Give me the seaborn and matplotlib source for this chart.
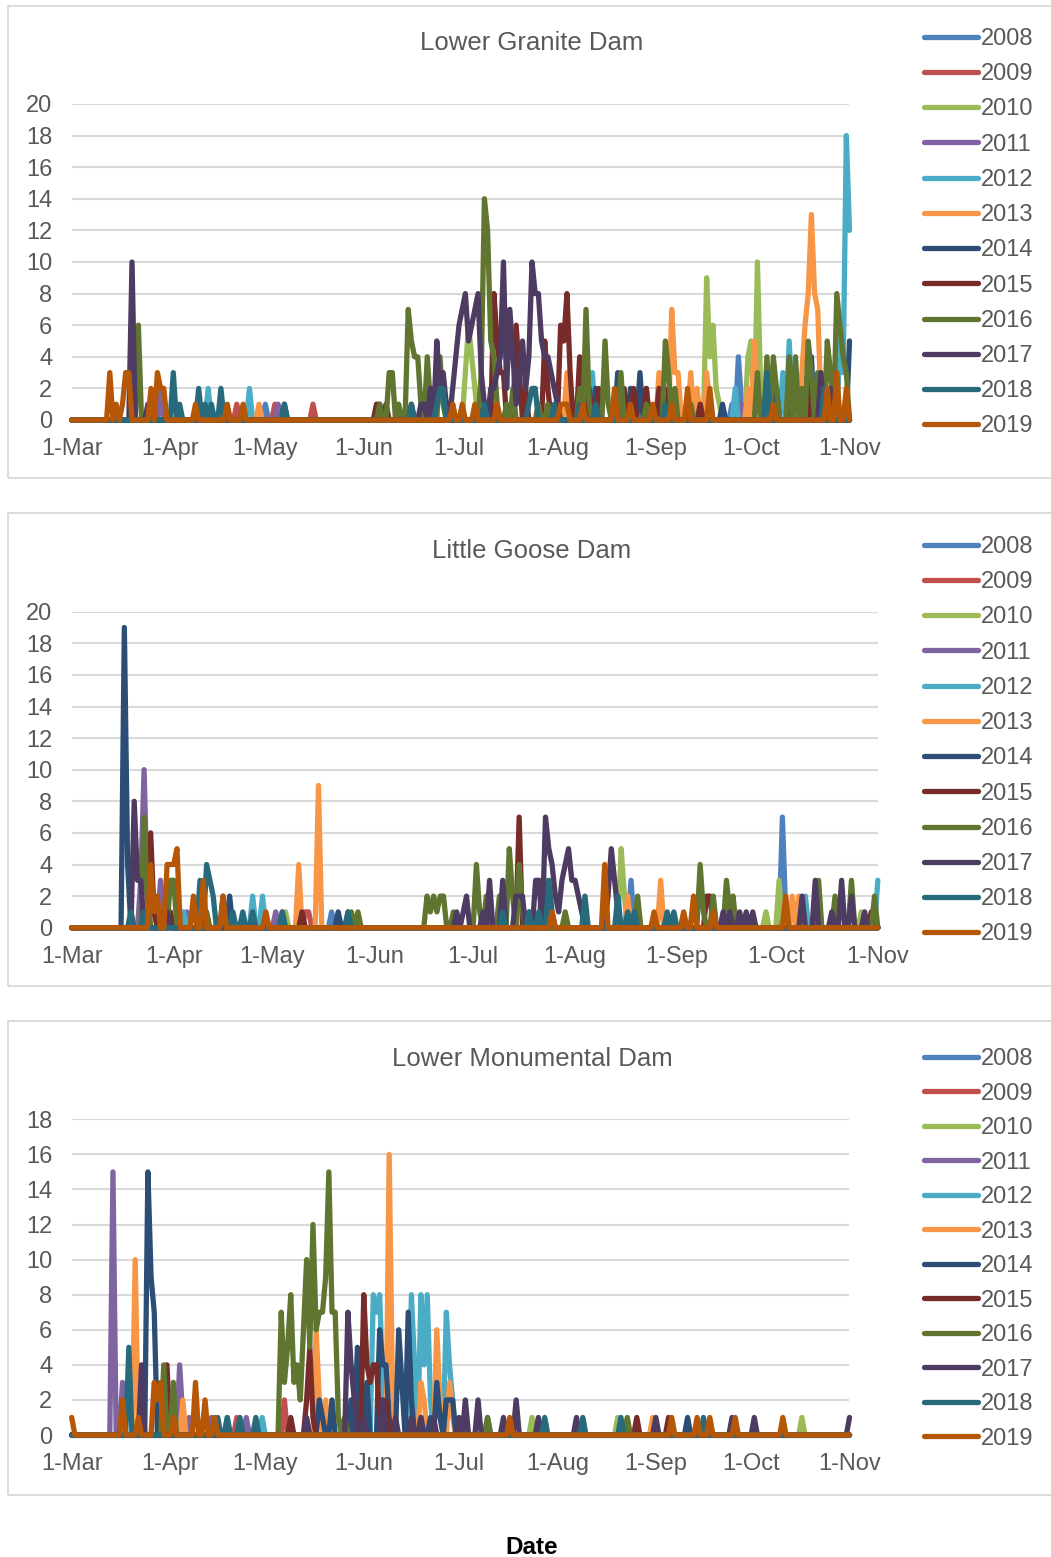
import numpy as np
import pandas as pd
import matplotlib
matplotlib.use("Agg")
import matplotlib.pyplot as plt
import seaborn as sns
from matplotlib.patches import Rectangle

YEARS = [2008, 2009, 2010, 2011, 2012, 2013, 2014, 2015, 2016, 2017, 2018, 2019]
COLORS = ["#4F81BD", "#C0504D", "#9BBB59", "#8064A2", "#4BACC6", "#F79646",
          "#2C4D75", "#772C2A", "#5F7530", "#4D3B62", "#276A7C", "#B65708"]
TICK_LABELS = ["1-Mar", "1-Apr", "1-May", "1-Jun", "1-Jul", "1-Aug", "1-Sep", "1-Oct", "1-Nov"]
SEASON_START = "2001-03-01"
SEASON_END = "2001-11-01"

# Daily counts keyed by days after 1 March; days not listed are zero.
LOWER_GRANITE = {
    2008: {61: 1, 190: 1, 208: 1, 210: 4, 211: 1, 232: 1, 240: 2},
    2009: {52: 1, 64: 1, 76: 1, 160: 1, 236: 1},
    2010: {124: 3, 125: 6, 126: 4, 127: 2, 197: 1, 200: 9, 201: 4, 202: 6, 203: 2, 204: 1,
           213: 4, 214: 5, 216: 10, 217: 2, 226: 1},
    2011: {28: 2, 65: 1, 211: 1},
    2012: {43: 2, 56: 2, 164: 3, 209: 2, 224: 3, 226: 5, 227: 1, 235: 2, 242: 5, 243: 3,
           244: 18, 245: 12},
    2013: {59: 1, 133: 1, 156: 3, 185: 3, 189: 7, 190: 3, 191: 3, 195: 3, 197: 2, 200: 3,
           201: 1, 213: 2, 215: 5, 216: 2, 221: 2, 230: 3, 231: 6, 232: 8, 233: 13, 234: 8,
           235: 7, 236: 1},
    2014: {25: 1, 67: 1, 165: 2, 172: 3, 176: 2, 179: 3, 181: 2, 205: 1, 222: 2, 233: 4,
           236: 2, 245: 5},
    2015: {96: 1, 97: 1, 99: 1, 107: 1, 133: 8, 134: 5, 135: 3, 136: 3, 140: 6, 141: 3,
           143: 2, 149: 5, 150: 2, 154: 6, 155: 5, 156: 8, 157: 3, 160: 4, 161: 2, 163: 2,
           166: 2, 174: 2, 177: 2, 181: 2, 185: 2, 188: 2, 198: 1, 226: 2, 233: 2, 238: 1},
    2016: {21: 6, 97: 1, 100: 3, 101: 3, 103: 1, 106: 7, 107: 5, 108: 4, 109: 4, 110: 1,
           112: 4, 113: 1, 116: 4, 117: 1, 120: 1, 129: 3, 130: 14, 131: 12, 132: 5, 133: 4,
           134: 1, 137: 1, 139: 2, 147: 1, 150: 1, 160: 2, 162: 7, 163: 1, 168: 5, 169: 1,
           173: 3, 181: 1, 187: 5, 188: 3, 190: 2, 195: 1, 216: 3, 219: 4, 221: 4, 222: 2,
           226: 4, 228: 4, 230: 2, 232: 5, 233: 3, 235: 3, 238: 5, 239: 3, 241: 8, 242: 6,
           243: 4, 244: 3},
    2017: {19: 10, 24: 1, 110: 1, 111: 1, 113: 2, 115: 5, 116: 2, 117: 3, 118: 1, 120: 2,
           121: 4, 122: 6, 123: 7, 124: 8, 125: 5, 126: 6, 127: 7, 128: 8, 129: 3, 130: 1,
           132: 2, 133: 2, 134: 3, 135: 4, 136: 10, 137: 2, 138: 7, 139: 4, 140: 1, 141: 3,
           142: 5, 143: 2, 144: 4, 145: 10, 146: 8, 147: 8, 148: 5, 149: 4, 150: 4, 151: 3,
           152: 2, 153: 1, 236: 3, 239: 2},
    2018: {32: 3, 34: 1, 40: 2, 42: 1, 44: 1, 47: 2, 67: 1, 107: 1, 115: 1, 116: 2, 117: 2,
           130: 1, 144: 1, 145: 2, 146: 2, 152: 1, 160: 1, 165: 1, 187: 1, 219: 3, 237: 2},
    2019: {12: 3, 14: 1, 16: 1, 17: 3, 18: 3, 25: 2, 27: 3, 28: 2, 29: 2, 39: 1, 49: 1,
           54: 1, 120: 1, 123: 1, 127: 1, 134: 1, 154: 1, 155: 1, 156: 1, 161: 1, 171: 2,
           176: 1, 183: 1, 189: 1, 194: 2, 201: 2, 221: 1, 238: 2, 241: 3, 244: 2},
}

LITTLE_GOOSE = {
    2008: {79: 1, 170: 3, 216: 7, 217: 1},
    2009: {71: 1, 72: 1},
    2010: {65: 1, 144: 3, 167: 5, 168: 2, 211: 1, 215: 3, 240: 1},
    2011: {21: 3, 22: 10, 23: 2, 27: 3, 35: 1, 62: 1, 64: 1, 142: 1},
    2012: {34: 1, 55: 2, 58: 2, 223: 2, 245: 3},
    2013: {18: 1, 69: 4, 75: 9, 169: 2, 179: 3, 219: 2, 221: 2},
    2014: {16: 19, 17: 4, 48: 2, 81: 1, 84: 1},
    2015: {24: 6, 25: 1, 28: 1, 30: 1, 70: 1, 136: 7, 193: 2, 194: 2, 243: 1},
    2016: {22: 7, 23: 2, 30: 3, 31: 3, 41: 1, 85: 1, 87: 1, 108: 2, 109: 1, 110: 2, 111: 1,
           112: 2, 113: 2, 116: 1, 123: 4, 124: 1, 126: 2, 130: 2, 133: 5, 134: 2, 136: 4,
           137: 1, 143: 3, 150: 1, 172: 2, 191: 4, 192: 1, 195: 2, 199: 3, 200: 1, 201: 2,
           227: 3, 232: 2, 237: 3, 244: 2},
    2017: {19: 8, 20: 3, 21: 3, 29: 1, 117: 1, 119: 1, 120: 2, 125: 1, 127: 3, 131: 3,
           135: 2, 136: 2, 137: 2, 139: 1, 141: 3, 142: 3, 144: 7, 145: 5, 146: 4, 147: 2,
           148: 1, 149: 3, 150: 4, 151: 5, 152: 3, 153: 3, 154: 2, 155: 1, 163: 2, 164: 5,
           165: 3, 166: 1, 198: 1, 200: 1, 203: 1, 205: 1, 207: 1, 222: 2, 226: 3, 231: 1,
           234: 3, 237: 2, 241: 1},
    2018: {18: 1, 22: 1, 39: 3, 41: 4, 42: 3, 43: 2, 46: 2, 49: 1, 52: 1, 55: 1, 64: 1,
           84: 1, 131: 1, 139: 1, 142: 1, 145: 3, 146: 1, 156: 2, 166: 2, 169: 1, 171: 1,
           181: 1, 183: 1},
    2019: {24: 4, 25: 1, 26: 2, 29: 4, 30: 4, 31: 4, 32: 5, 37: 2, 40: 3, 46: 2, 59: 1,
           146: 1, 162: 4, 177: 1, 186: 1, 189: 2, 195: 1, 217: 2},
}

LOWER_MONUMENTAL = {
    2008: {},
    2009: {52: 1, 67: 2},
    2010: {145: 1, 172: 1, 230: 1},
    2011: {13: 15, 16: 3, 34: 4, 35: 1, 37: 1, 44: 1, 55: 1},
    2012: {49: 1, 60: 1, 95: 8, 96: 7, 97: 8, 98: 3, 107: 8, 108: 4, 110: 8, 111: 4, 112: 8,
           113: 2, 118: 7, 119: 4, 120: 2, 123: 1, 131: 1},
    2013: {20: 10, 35: 2, 77: 6, 78: 2, 80: 2, 100: 16, 101: 3, 110: 3, 111: 2, 115: 6,
           116: 2, 119: 3, 120: 1, 183: 1},
    2014: {24: 15, 25: 9, 26: 7, 78: 2, 79: 1, 82: 2, 88: 2, 90: 5, 91: 1, 93: 3, 97: 6,
           98: 4, 99: 4, 100: 1, 103: 6, 104: 3, 106: 7, 107: 2, 113: 1, 115: 3, 116: 1,
           118: 2, 119: 2, 120: 2, 194: 1},
    2015: {30: 4, 69: 1, 74: 2, 75: 5, 76: 1, 86: 1, 92: 8, 93: 4, 94: 3, 95: 4, 96: 4,
           97: 1, 99: 2, 178: 1, 188: 1},
    2016: {29: 4, 32: 3, 45: 1, 66: 7, 67: 3, 68: 5, 69: 8, 70: 3, 71: 4, 72: 2, 73: 6,
           74: 10, 75: 5, 76: 12, 77: 6, 78: 7, 79: 7, 80: 9, 81: 15, 82: 7, 83: 7, 84: 1,
           86: 1, 110: 1, 131: 1, 175: 1},
    2017: {22: 4, 74: 1, 87: 7, 88: 4, 89: 2, 92: 1, 98: 2, 102: 1, 107: 1, 110: 1, 114: 1,
           122: 1, 124: 2, 128: 2, 136: 1, 140: 2, 147: 1, 159: 1, 184: 1, 208: 1, 215: 1,
           245: 1},
    2018: {18: 5, 46: 1, 49: 1, 53: 1, 58: 1, 149: 1, 161: 1, 173: 1, 199: 1},
    2019: {0: 1, 16: 2, 21: 1, 26: 3, 27: 2, 28: 3, 32: 1, 39: 3, 42: 2, 45: 1, 138: 1,
           189: 1, 197: 1, 201: 1, 209: 1, 224: 1},
}

GREY_TEXT = "#595959"
GRID = "#D9D9D9"
W, H = 1051, 1557
LINE_W = 3.8


def to_frame(dam):
    dates = pd.date_range(SEASON_START, SEASON_END, freq="D")
    rows = []
    for year in YEARS:
        counts = np.zeros(len(dates))
        for day, value in dam[year].items():
            counts[day] = value
        rows.append(pd.DataFrame({"date": dates, "count": counts, "year": str(year)}))
    return pd.concat(rows, ignore_index=True)


sns.set_theme(style="white")
plt.rcParams["font.family"] = ["Liberation Sans", "DejaVu Sans"]

fig = plt.figure(figsize=(W / 100, H / 100), dpi=100)


def fx(px):
    return px / W


def fy(py):
    return 1 - py / H


panels = [
    # title, data, ymax, plot box (left, top, right, bottom px), frame (top, bottom px),
    # title y, legend top, legend spacing
    ("Lower Granite Dam", LOWER_GRANITE, 20, (71.7, 104, 849.5, 420), (6, 478), 43, 28, 0.56),
    ("Little Goose Dam", LITTLE_GOOSE, 20, (71.7, 611.7, 877.8, 927.7), (513, 986), 551, 536, 0.56),
    ("Lower Monumental Dam", LOWER_MONUMENTAL, 18, (71.7, 1119.3, 849.5, 1435), (1021, 1495), 1059, 1048, 0.53),
]

palette = {str(y): c for y, c in zip(YEARS, COLORS)}
tick_dates = pd.date_range(SEASON_START, SEASON_END, freq="MS")

for title, dam, ymax, (l, t, r, b), (ft, fb), ty, lt, lsp in panels:
    fig.add_artist(Rectangle((fx(8), fy(fb)), fx(1100 - 8), (fb - ft) / H,
                             transform=fig.transFigure, fill=False,
                             edgecolor=GRID, linewidth=1.3))
    ax = fig.add_axes([fx(l), fy(b), fx(r - l), (b - t) / H])
    df = to_frame(dam)
    sns.lineplot(data=df, x="date", y="count", hue="year",
                 hue_order=[str(y) for y in YEARS], palette=palette,
                 estimator=None, linewidth=LINE_W, ax=ax)
    for line in ax.lines:
        line.set_linewidth(LINE_W)
        line.set_solid_joinstyle("round")
        line.set_solid_capstyle("round")
        line.set_clip_on(False)
        line.set_zorder(3)

    ax.set_xlim(pd.Timestamp(SEASON_START), pd.Timestamp(SEASON_END))
    ax.set_ylim(0, ymax)
    ax.set_yticks(np.arange(0, ymax + 1, 2))
    ax.set_xticks(tick_dates)
    ax.set_xticklabels(TICK_LABELS)
    ax.set_xlabel("")
    ax.set_ylabel("")
    ax.grid(axis="y", color=GRID, linewidth=1.5)
    ax.set_axisbelow(True)
    for side in ["top", "right", "left", "bottom"]:
        ax.spines[side].set_visible(False)
    ax.tick_params(axis="y", length=0, pad=14, labelsize=17, labelcolor=GREY_TEXT)
    ax.tick_params(axis="x", length=4, width=1, color=GRID, pad=9,
                   labelsize=17, labelcolor=GREY_TEXT)

    leg = ax.get_legend()
    handles = leg.legend_handles
    labels = [txt.get_text() for txt in leg.texts]
    leg.remove()
    new_leg = ax.legend(handles, labels, loc="upper left",
                        bbox_to_anchor=(fx(924), fy(lt)),
                        bbox_transform=fig.transFigure, frameon=False,
                        fontsize=17, labelcolor=GREY_TEXT, handlelength=2.3,
                        handletextpad=0.12, labelspacing=lsp, borderpad=0,
                        borderaxespad=0)
    for h in new_leg.legend_handles:
        h.set_linewidth(LINE_W)
        h.set_solid_capstyle("round")

    fig.text(fx(532), fy(ty), title, ha="center", va="center",
             fontsize=18.5, color=GREY_TEXT)

fig.text(fx(532), fy(1547), "Date", ha="center", va="center",
         fontsize=17.5, fontweight="bold", color="black")

fig.savefig("out.png", dpi=100, facecolor="white")
